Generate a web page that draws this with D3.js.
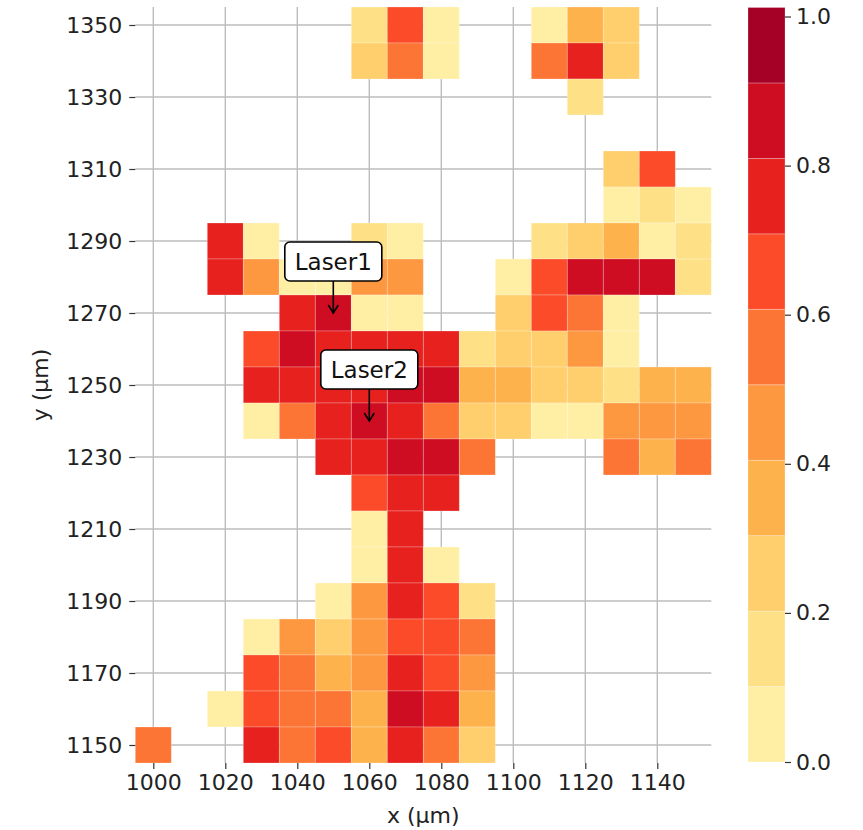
<!DOCTYPE html>
<html>
<head>
<meta charset="utf-8">
<script src="https://cdn.jsdelivr.net/npm/d3@7"></script>
<style>
  body { margin: 0; background: #fff; }
  text { font-family: "DejaVu Sans", sans-serif; }
</style>
</head>
<body>
<div id="chart"></div>
<script>
// cell centres (µm)
const xCenters = d3.range(1000, 1151, 10);
const yCenters = d3.range(1350, 1149, -10);   // top row first
const xTicks = [1000, 1020, 1040, 1060, 1080, 1100, 1120, 1140];
const yTicks = [1150, 1170, 1190, 1210, 1230, 1250, 1270, 1290, 1310, 1330, 1350];
const cbTicks = [0, 0.2, 0.4, 0.6, 0.8, 1.0];
const N = null;
// normalised intensity, one row per y (1350 -> 1150), one column per x (1000 -> 1150)
const intensity = [
  [N,N,N,N,N,N,.15,.65,.05,N,N,.05,.35,.25,N,N],
  [N,N,N,N,N,N,.25,.55,.05,N,N,.55,.75,.25,N,N],
  [N,N,N,N,N,N,N,N,N,N,N,N,.15,N,N,N],
  [N,N,N,N,N,N,N,N,N,N,N,N,N,N,N,N],
  [N,N,N,N,N,N,N,N,N,N,N,N,N,.25,.65,N],
  [N,N,N,N,N,N,N,N,N,N,N,N,N,.05,.15,.05],
  [N,N,.75,.05,N,N,.15,.05,N,N,N,.15,.25,.35,.05,.15],
  [N,N,.75,.45,.05,.05,.45,.45,N,N,.05,.65,.85,.85,.85,.15],
  [N,N,N,N,.75,.85,.05,.05,N,N,.25,.65,.55,.05,N,N],
  [N,N,N,.65,.85,.75,.75,.75,.75,.15,.25,.25,.45,.05,N,N],
  [N,N,N,.75,.75,.75,.75,.85,.85,.35,.35,.25,.25,.15,.35,.35],
  [N,N,N,.05,.55,.75,.85,.75,.55,.25,.25,.05,.05,.45,.45,.45],
  [N,N,N,N,N,.75,.75,.85,.85,.55,N,N,N,.55,.35,.55],
  [N,N,N,N,N,N,.65,.75,.75,N,N,N,N,N,N,N],
  [N,N,N,N,N,N,.05,.75,N,N,N,N,N,N,N,N],
  [N,N,N,N,N,N,.05,.75,.05,N,N,N,N,N,N,N],
  [N,N,N,N,N,.05,.45,.75,.65,.15,N,N,N,N,N,N],
  [N,N,N,.05,.45,.25,.45,.65,.65,.55,N,N,N,N,N,N],
  [N,N,N,.65,.55,.35,.45,.75,.65,.45,N,N,N,N,N,N],
  [N,N,.05,.65,.55,.55,.35,.85,.75,.35,N,N,N,N,N,N],
  [.55,N,N,.75,.55,.65,.35,.75,.55,.25,N,N,N,N,N,N]
];
const lasers = [
  { name: "Laser1", x: 1050, y: 1270 },
  { name: "Laser2", x: 1060, y: 1240 }
];
const levelColors = ["#ffefa5", "#fee187", "#fecf6c", "#feb24c", "#fd9841",
                     "#fc7535", "#fb4b29", "#e6211e", "#ce0c22", "#a50026"];

const W = 863, H = 830;
const plotLeft = 135.3, plotRight = 711.3, plotTop = 7, plotBottom = 763;
const step = 10;

const svg = d3.select("#chart").append("svg")
  .attr("width", W).attr("height", H);

const x = d3.scaleLinear().domain([995, 1155]).range([plotLeft, plotRight]);
const y = d3.scaleLinear().domain([1145, 1355]).range([plotBottom, plotTop]);
const color = d3.scaleQuantize().domain([0, 1]).range(levelColors);

// grid
const grid = svg.append("g").attr("stroke", "#bdbdbd").attr("stroke-width", 1.4);
grid.selectAll(".gx").data(xTicks).join("line").attr("class", "gx")
  .attr("x1", d => x(d)).attr("x2", d => x(d)).attr("y1", plotTop).attr("y2", plotBottom);
grid.selectAll(".gy").data(yTicks).join("line").attr("class", "gy")
  .attr("y1", d => y(d)).attr("y2", d => y(d)).attr("x1", plotLeft).attr("x2", plotRight);

// cells
const cells = [];
intensity.forEach((row, i) => row.forEach((v, j) => {
  if (v !== null) cells.push({ x: xCenters[j], y: yCenters[i], v: v });
}));
svg.append("g").selectAll("rect").data(cells).join("rect")
  .attr("x", d => x(d.x - step / 2))
  .attr("y", d => y(d.y + step / 2))
  .attr("width", x(step) - x(0))
  .attr("height", y(0) - y(step))
  .attr("fill", d => color(d.v))
  .attr("stroke", "#fff").attr("stroke-opacity", 0.3).attr("stroke-width", 0.8);

// axes
const xAxis = svg.append("g").attr("transform", `translate(0,${plotBottom})`)
  .call(d3.axisBottom(x).tickValues(xTicks).tickFormat(d3.format("d")).tickSize(6).tickPadding(5));
const yAxis = svg.append("g").attr("transform", `translate(${plotLeft},0)`)
  .call(d3.axisLeft(y).tickValues(yTicks).tickFormat(d3.format("d")).tickSize(6).tickPadding(7));
[xAxis, yAxis].forEach(a => {
  a.select(".domain").remove();
  a.selectAll(".tick line").attr("stroke", "#333").attr("stroke-width", 1.2);
  a.selectAll(".tick text").attr("font-size", 22).attr("fill", "#222")
    .attr("font-family", "DejaVu Sans");
});

svg.append("text").attr("x", (plotLeft + plotRight) / 2).attr("y", 823)
  .attr("text-anchor", "middle").attr("font-size", 22).attr("fill", "#222")
  .text("x (µm)");
svg.append("text")
  .attr("transform", `translate(48,${(plotTop + plotBottom) / 2}) rotate(-90)`)
  .attr("text-anchor", "middle").attr("font-size", 22).attr("fill", "#222")
  .text("y (µm)");

// annotations
const ann = svg.append("g");
lasers.forEach(l => {
  const px = x(l.x), py = y(l.y);
  const boxW = 97, boxH = 39, gap = 32;
  const by = py - gap - boxH;
  ann.append("line")
    .attr("x1", px).attr("x2", px).attr("y1", by + boxH).attr("y2", py)
    .attr("stroke", "#000").attr("stroke-width", 1.6);
  ann.append("path")
    .attr("d", `M${px - 5},${py - 8} L${px},${py} L${px + 5},${py - 8}`)
    .attr("fill", "none").attr("stroke", "#000").attr("stroke-width", 1.6);
  ann.append("rect")
    .attr("x", px - boxW / 2).attr("y", by).attr("width", boxW).attr("height", boxH)
    .attr("rx", 5).attr("fill", "#fff").attr("stroke", "#000").attr("stroke-width", 1.6);
  ann.append("text").attr("x", px).attr("y", by + boxH / 2 + 8)
    .attr("text-anchor", "middle").attr("font-size", 23).attr("fill", "#111")
    .text(l.name);
});

// colorbar
const cbLeft = 748, cbRight = 785, cbTop = 7.5, cbBottom = 762;
const bandH = (cbBottom - cbTop) / levelColors.length;
svg.append("g").selectAll("rect").data(levelColors).join("rect")
  .attr("x", cbLeft).attr("width", cbRight - cbLeft)
  .attr("y", (d, i) => cbBottom - (i + 1) * bandH).attr("height", bandH)
  .attr("fill", d => d)
  .attr("stroke", "#fff").attr("stroke-opacity", 0.3).attr("stroke-width", 0.8);
const cbY = d3.scaleLinear().domain([0, 1]).range([cbBottom, 16.5]);
const cbAxis = svg.append("g").attr("transform", `translate(${cbRight},0)`)
  .call(d3.axisRight(cbY).tickValues(cbTicks).tickFormat(d3.format(".1f")).tickSize(6).tickPadding(5));
cbAxis.select(".domain").remove();
cbAxis.selectAll(".tick line").attr("stroke", "#333").attr("stroke-width", 1.2);
cbAxis.selectAll(".tick text").attr("font-size", 22).attr("fill", "#222")
  .attr("font-family", "DejaVu Sans");
</script>
</body>
</html>
